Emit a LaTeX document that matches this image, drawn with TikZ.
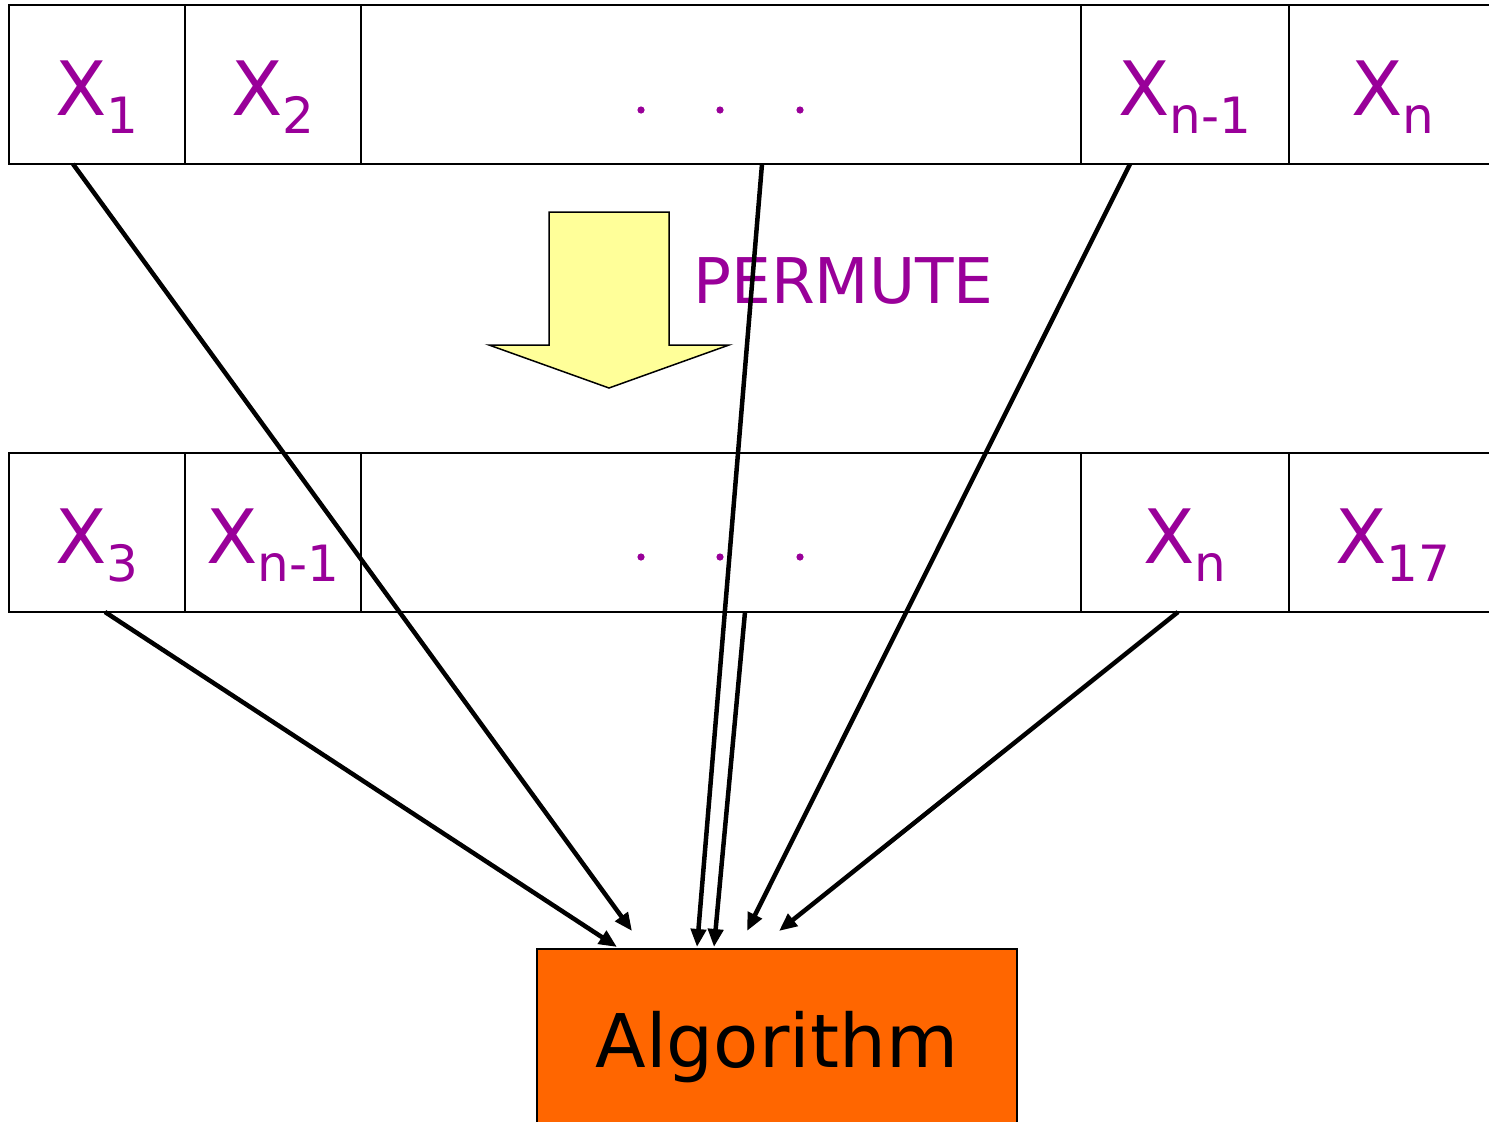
\documentclass[tikz,border=0pt]{standalone}
\usepackage{fontspec}
\setmainfont{DejaVu Sans}
\usetikzlibrary{arrows.meta,calc}
\definecolor{labpurple}{HTML}{990099}
\definecolor{algorange}{HTML}{FF6600}
\definecolor{permyellow}{HTML}{FFFF99}
\newcommand{\xsub}[1]{X{\fontsize{50}{50}\selectfont\raisebox{-18pt}{#1}}}
\tikzset{
  cell/.style={draw=black, line width=2.2pt, minimum height=159pt, inner sep=0pt, outer sep=0pt},
  lab/.style={anchor=base, text=labpurple, font=\fontsize{75}{75}\selectfont, inner sep=0pt},
  feed/.style={line width=4.5pt, -{Triangle[length=18pt,width=15pt]}},
  dot/.style={fill=labpurple, draw=none}
}
\begin{document}
\begin{tikzpicture}[x=1pt, y=-1pt]
  \clip (0,0) rectangle (1489,1122);
  \fill[white] (0,0) rectangle (1489,1122);

  % original order of the inputs
  \node[cell, minimum width=176pt] (t1) at (97,84.5) {};
  \node[cell, minimum width=176pt] (t2) at (273,84.5) {};
  \node[cell, minimum width=720pt] (t3) at (721,84.5) {};
  \node[cell, minimum width=208pt] (t4) at (1185,84.5) {};
  \node[cell, minimum width=208pt] (t5) at (1393,84.5) {};
  \node[lab] (t1l) at (97,115) {\xsub{1}};
  \node[lab] (t2l) at (273,115) {\xsub{2}};
  \node[lab] (t4l) at (1185,115) {\xsub{n-1}};
  \node[lab] (t5l) at (1393,115) {\xsub{n}};
  \fill[dot] (641,110) circle (3.6) (720,110) circle (3.6) (800,110) circle (3.6);

  % permuted order
  \node[cell, minimum width=176pt] (b1) at (97,532.5) {};
  \node[cell, minimum width=176pt] (b2) at (273,532.5) {};
  \node[cell, minimum width=720pt] (b3) at (721,532.5) {};
  \node[cell, minimum width=208pt] (b4) at (1185,532.5) {};
  \node[cell, minimum width=208pt] (b5) at (1393,532.5) {};
  \node[lab] (b1l) at (97,563) {\xsub{3}};
  \node[lab] (b2l) at (273,563) {\xsub{n-1}};
  \node[lab] (b4l) at (1185,563) {\xsub{n}};
  \node[lab] (b5l) at (1393,563) {\xsub{17}};
  \fill[dot] (641,557) circle (3.6) (720,557) circle (3.6) (800,557) circle (3.6);

  % block arrow with its label
  \draw[fill=permyellow, line width=1.5pt, line join=miter]
    (549,212) -- (669,212) -- (669,345) -- (729,345) -- (609,388)
    -- (489,345) -- (549,345) -- cycle;
  \node[anchor=base west, text=labpurple, font=\fontsize{63}{63}\selectfont, inner sep=0pt]
    (perm) at (693,303) {PERMUTE};

  % the algorithm box
  \node[draw=black, line width=2pt, fill=algorange, minimum width=480pt, minimum height=200pt,
        inner sep=0pt, outer sep=0pt] (alg) at (777,1049) {};
  \node[anchor=base, font=\fontsize{74}{74}\selectfont, inner sep=0pt] (algl) at (777,1067) {Algorithm};

  % inputs fed to the algorithm
  \draw[feed] ($(t1.south west)+(64,0)$)  -- ($(alg.north west)+(95,-18)$);
  \draw[feed] ($(t3.south west)+(401,0)$) -- ($(alg.north west)+(160,-2)$);
  \draw[feed] ($(t4.south west)+(49,0)$)  -- ($(alg.north west)+(210,-18)$);
  \draw[feed] ($(b1.south west)+(96,0)$)  -- ($(alg.north west)+(80,-2)$);
  \draw[feed] ($(b3.south west)+(384,0)$) -- ($(alg.north west)+(177,-2)$);
  \draw[feed] ($(b4.south west)+(97,0)$)  -- ($(alg.north west)+(242,-18)$);
\end{tikzpicture}
\end{document}
